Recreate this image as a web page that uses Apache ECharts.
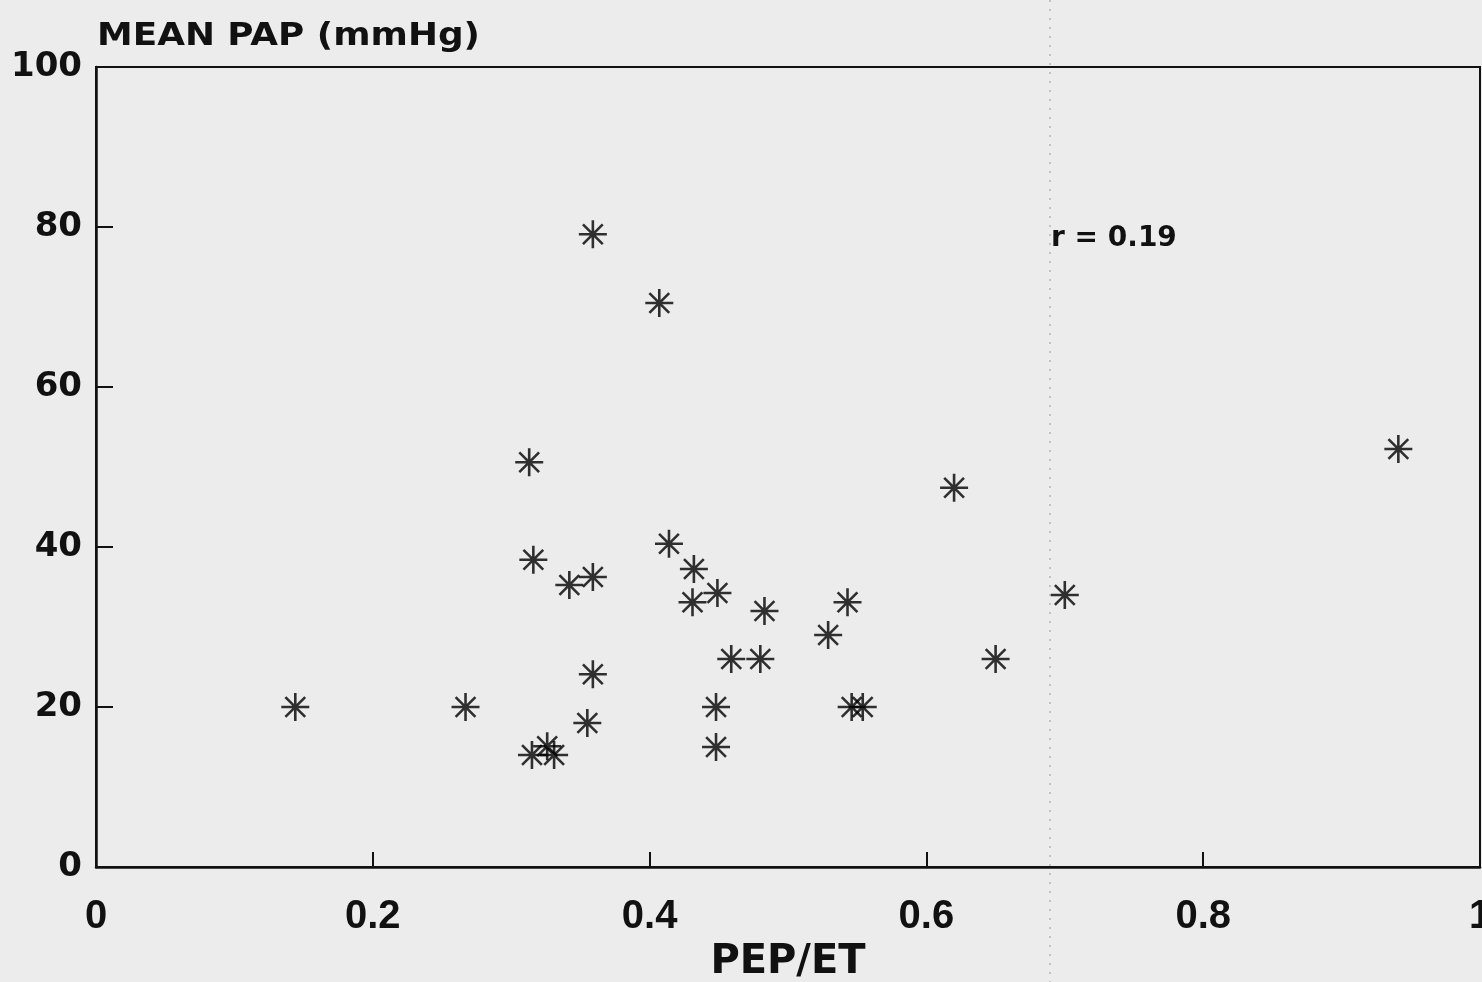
<!DOCTYPE html>
<html>
<head>
<meta charset="utf-8">
<script src="https://cdn.jsdelivr.net/npm/echarts@6/dist/echarts.min.js"></script>
<style>
html,body{margin:0;padding:0;background:#ececec;overflow:hidden;width:100%;height:100%;}
#chart{width:100vw;height:100vh;}
</style>
</head>
<body>
<div id="chart"></div>
<script>
// Data (PEP/ET vs mean PAP)
const pepEt = [0.144,0.267,0.313,0.316,0.315,0.326,0.331,0.342,0.359,0.359,
               0.355,0.359,0.407,0.414,0.432,0.431,0.449,0.483,0.459,0.480,
               0.448,0.448,0.529,0.543,0.546,0.554,0.620,0.650,0.700,0.941];
const meanPap = [20,20,50.6,38.4,14,15.1,14,35.25,36.25,79.1,
                 18,24.1,70.5,40.4,37.25,33.1,34.25,32,26,26,
                 20,15,29,33.1,20,20,47.4,26,34,52.25];
const xTicks = [0,0.2,0.4,0.6,0.8,1];
const yTicks = [0,20,40,60,80,100];
const xTitle = 'PEP/ET';
const yTitle = 'MEAN PAP (mmHg)';
const annotation = 'r = 0.19';

const points = pepEt.map((x,i)=>[x, meanPap[i]]);
const star = 'path://M0,-1L0,1M-1,0L1,0M-0.7071,-0.7071L0.7071,0.7071M-0.7071,0.7071L0.7071,-0.7071';

const chart = echarts.init(document.getElementById('chart'));
chart.setOption({
  backgroundColor: '#ececec',
  animation: false,
  grid: {left: 96, right: 2, top: 67, bottom: 115, containLabel: false, outerBoundsMode: 'none',
         show: true, borderColor: '#111', borderWidth: 2, backgroundColor: 'transparent'},
  xAxis: {
    type: 'value', min: 0, max: 1, interval: 0.2,
    axisLine: {lineStyle: {color: '#111', width: 2.5}},
    axisTick: {inside: true, length: 15, lineStyle: {color: '#111', width: 2}},
    splitLine: {show: false},
    axisLabel: {color: '#111', fontFamily: 'Liberation Sans', fontWeight: 'bold', fontSize: 40, margin: 30,
      formatter: v => xTicks.includes(+v.toFixed(1)) ? String(+v.toFixed(1)) : ''},
    name: xTitle, nameLocation: 'middle', nameGap: 76,
    nameTextStyle: {color: '#111', fontFamily: 'DejaVu Sans', fontWeight: 'bold', fontSize: 40}
  },
  yAxis: {
    type: 'value', min: 0, max: 100, interval: 20,
    axisLine: {lineStyle: {color: '#111', width: 2.5}},
    axisTick: {inside: true, length: 17, lineStyle: {color: '#111', width: 2}},
    splitLine: {show: false},
    axisLabel: {color: '#111', fontFamily: 'DejaVu Sans', fontWeight: 'bold', fontSize: 34, margin: 14,
      formatter: v => yTicks.includes(v) ? String(v) : ''}
  },
  graphic: [
    {type: 'line', silent: true, z: 0, shape: {x1: 1050, y1: 0, x2: 1050, y2: 982},
     style: {stroke: '#9a9a9a', lineWidth: 1, lineDash: [2, 7]}},
    {type: 'text', x: 97, y: 37, scaleX: 1.12, style: {text: yTitle, fill: '#111', font: 'bold 32px "DejaVu Sans"', textVerticalAlign: 'middle', textAlign: 'left'}},
    {type: 'text', x: 1051, y: 239, style: {text: annotation, fill: '#111', font: 'bold 28px "DejaVu Sans"', textVerticalAlign: 'middle', textAlign: 'left'}}
  ],
  series: [{
    type: 'scatter',
    data: points,
    symbol: star,
    symbolSize: 28,
    itemStyle: {color: 'none', borderColor: '#000', borderWidth: 2.6},
    emphasis: {disabled: true}
  }]
});
</script>
</body>
</html>
